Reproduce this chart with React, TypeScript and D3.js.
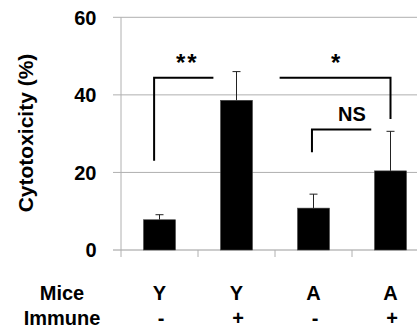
import React from "react";
import * as d3 from "d3";

// chart values
const mice = ["Y", "Y", "A", "A"];
const immune = ["-", "+", "-", "+"];
const means = [7.8, 38.6, 10.8, 20.4];
const errors = [1.3, 7.4, 3.6, 10.2];
const yTicks = [0, 20, 40, 60];

// significance brackets, x in category index units, y in % units
const brackets = [
  { x1: -0.07, x2: 0.7, y: 44.4, dropLeft: 23.0, dropRight: null as number | null },
  { x1: 1.56, x2: 3.0, y: 44.4, dropLeft: null as number | null, dropRight: 33.8 },
  { x1: 1.98, x2: 2.75, y: 31.1, dropLeft: 25.2, dropRight: null as number | null },
];
const sigLabels = [
  { text: "**", x: 0.36, y: 46.2, star: true },
  { text: "*", x: 2.3, y: 46.2, star: true },
  { text: "NS", x: 2.5, y: 33.2, star: false },
];

const width = 417;
const height = 335;
const font = "Arial, 'Liberation Sans', sans-serif";

const App = () => {
  const x0 = 121;
  const step = 77;
  const x = d3
    .scaleBand<number>()
    .domain(d3.range(mice.length))
    .range([x0, x0 + step * mice.length])
    .paddingInner(0.585)
    .paddingOuter(0.2925);
  // continuous position in category units (index 0 = first band centre)
  const xPos = d3
    .scaleLinear()
    .domain([-0.5, mice.length - 0.5])
    .range([x0, x0 + step * mice.length]);
  const y = d3.scaleLinear().domain([0, 60]).range([250, 17.3]);

  const gridColor = "#b0b0b0";

  return (
    <svg
      width={width}
      height={height}
      style={{ position: "absolute", left: 0, top: 0, background: "#fff" }}
      fontFamily={font}
    >
      {/* gridlines + y ticks */}
      {yTicks.map((t) => (
        <g key={t}>
          <line
            x1={x0 - 8}
            x2={width}
            y1={y(t)}
            y2={y(t)}
            stroke={t === 0 ? "#9a9a9a" : gridColor}
            strokeWidth={1}
          />
          <text
            x={96.5}
            y={y(t)}
            dy="0.36em"
            textAnchor="end"
            fontSize={20}
            fontWeight="bold"
          >
            {t}
          </text>
        </g>
      ))}
      {/* y axis */}
      <line x1={x0} x2={x0} y1={y(60)} y2={y(0) + 7} stroke={gridColor} />
      {/* category ticks */}
      {d3.range(1, mice.length).map((i) => (
        <line
          key={i}
          x1={x0 + step * i}
          x2={x0 + step * i}
          y1={y(0)}
          y2={y(0) + 7}
          stroke={gridColor}
        />
      ))}

      {/* error bars (upper only) */}
      {means.map((m, i) => {
        const cx = xPos(i);
        return (
          <g key={"e" + i} stroke="#222" strokeWidth={1}>
            <line x1={cx} x2={cx} y1={y(m)} y2={y(m + errors[i])} />
            <line x1={cx - 4} x2={cx + 4} y1={y(m + errors[i])} y2={y(m + errors[i])} />
          </g>
        );
      })}

      {/* bars */}
      {means.map((m, i) => (
        <rect
          key={"b" + i}
          x={x(i)}
          y={y(m)}
          width={x.bandwidth()}
          height={y(0) - y(m)}
          fill="#000"
          stroke="#444"
          strokeWidth={0.6}
        />
      ))}

      {/* significance brackets */}
      {brackets.map((b, i) => {
        const pts: [number, number][] = [];
        if (b.dropLeft !== null) pts.push([xPos(b.x1), y(b.dropLeft)]);
        pts.push([xPos(b.x1), y(b.y)]);
        pts.push([xPos(b.x2), y(b.y)]);
        if (b.dropRight !== null) pts.push([xPos(b.x2), y(b.dropRight)]);
        return (
          <path
            key={"k" + i}
            d={d3.line()(pts) ?? ""}
            fill="none"
            stroke="#000"
            strokeWidth={2}
          />
        );
      })}
      {sigLabels.map((s, i) => (
        <text
          key={"s" + i}
          x={xPos(s.x)}
          y={y(s.y)}
          textAnchor="middle"
          fontSize={s.star ? 24 : 20}
          fontWeight="bold"
          letterSpacing={s.star ? 2 : 0}
        >
          {s.text}
        </text>
      ))}

      {/* category labels */}
      <text x={62} y={300} textAnchor="middle" fontSize={20} fontWeight="bold">
        Mice
      </text>
      <text x={62} y={325} textAnchor="middle" fontSize={20} fontWeight="bold">
        Immune
      </text>
      {mice.map((m, i) => (
        <text
          key={"m" + i}
          x={xPos(i)}
          y={300}
          textAnchor="middle"
          fontSize={20}
          fontWeight="bold"
        >
          {m}
        </text>
      ))}
      {immune.map((m, i) => (
        <text
          key={"i" + i}
          x={xPos(i) + 1.5}
          y={325}
          textAnchor="middle"
          fontSize={20}
          fontWeight="bold"
        >
          {m}
        </text>
      ))}

      {/* y axis title */}
      <text
        transform="translate(33,133) rotate(-90)"
        textAnchor="middle"
        fontSize={21}
        fontWeight="bold"
      >
        Cytotoxicity (%)
      </text>
    </svg>
  );
};

export default App;
